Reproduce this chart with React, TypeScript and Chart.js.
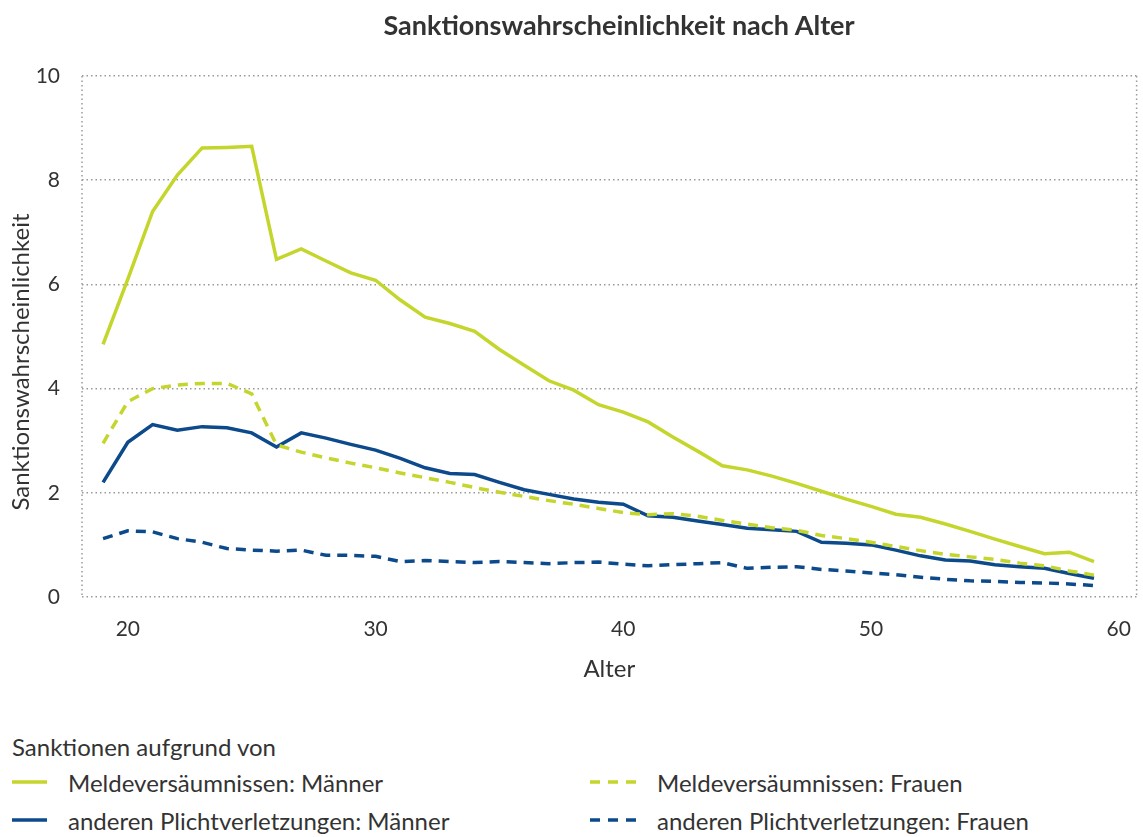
import { useEffect, useRef } from "react";
import { Chart, registerables } from "chart.js";

Chart.register(...registerables);

const ages = [19, 20, 21, 22, 23, 24, 25, 26, 27, 28, 29, 30, 31, 32, 33, 34, 35, 36, 37, 38, 39, 40, 41, 42, 43, 44, 45, 46, 47, 48, 49, 50, 51, 52, 53, 54, 55, 56, 57, 58, 59];

const meldeMaenner = [4.85, 6.1, 7.4, 8.1, 8.62, 8.63, 8.65, 6.48, 6.68, 6.45, 6.22, 6.08, 5.7, 5.37, 5.25, 5.1, 4.75, 4.45, 4.15, 3.97, 3.69, 3.55, 3.36, 3.07, 2.8, 2.52, 2.44, 2.32, 2.18, 2.03, 1.88, 1.74, 1.59, 1.53, 1.4, 1.26, 1.11, 0.97, 0.83, 0.86, 0.68];
const meldeFrauen = [2.95, 3.75, 4.0, 4.07, 4.1, 4.1, 3.9, 2.92, 2.78, 2.67, 2.57, 2.48, 2.38, 2.29, 2.2, 2.1, 2.01, 1.93, 1.85, 1.78, 1.7, 1.62, 1.58, 1.6, 1.55, 1.47, 1.4, 1.33, 1.28, 1.18, 1.12, 1.05, 0.97, 0.89, 0.82, 0.77, 0.72, 0.65, 0.6, 0.5, 0.42];
const andereMaenner = [2.2, 2.97, 3.31, 3.2, 3.27, 3.25, 3.15, 2.88, 3.15, 3.05, 2.93, 2.82, 2.66, 2.48, 2.37, 2.35, 2.2, 2.06, 1.97, 1.88, 1.82, 1.78, 1.56, 1.53, 1.46, 1.39, 1.32, 1.29, 1.26, 1.05, 1.03, 1.0, 0.9, 0.79, 0.71, 0.69, 0.62, 0.58, 0.55, 0.45, 0.36];
const andereFrauen = [1.12, 1.27, 1.25, 1.12, 1.05, 0.93, 0.9, 0.88, 0.9, 0.8, 0.8, 0.78, 0.68, 0.7, 0.68, 0.66, 0.68, 0.66, 0.64, 0.66, 0.67, 0.63, 0.6, 0.62, 0.64, 0.66, 0.55, 0.57, 0.58, 0.53, 0.5, 0.46, 0.43, 0.38, 0.34, 0.31, 0.3, 0.28, 0.27, 0.25, 0.22];

const xTicks = [20, 30, 40, 50, 60];
const yTicks = [0, 2, 4, 6, 8, 10];

const chartTitle = "Sanktionswahrscheinlichkeit nach Alter";
const yTitle = "Sanktionswahrscheinlichkeit";
const xTitle = "Alter";
const legendTitle = "Sanktionen aufgrund von";

const seriesLabels = [
  "Meldeversäumnissen: Männer",
  "Meldeversäumnissen: Frauen",
  "anderen Plichtverletzungen: Männer",
  "anderen Plichtverletzungen: Frauen",
];

const GREEN = "#c4d52c";
const BLUE = "#0c4a8c";
const TEXT = "#333333";
const GRID = "#9a9a9a";
const FONT = "Lato, 'Open Sans', sans-serif";

const seriesValues = [meldeMaenner, meldeFrauen, andereMaenner, andereFrauen];
const seriesColors = [GREEN, GREEN, BLUE, BLUE];
const seriesDashed = [false, true, false, true];

const edgePlugin = {
  id: "edges",
  beforeDatasetsDraw(chart: any) {
    const { ctx, chartArea } = chart;
    const { left, right, top, bottom } = chartArea;
    ctx.save();
    ctx.strokeStyle = GRID;
    ctx.lineWidth = 1.5;
    ctx.setLineDash([1.5, 3]);
    [left, right].forEach((x: number) => {
      ctx.beginPath();
      ctx.moveTo(x, top);
      ctx.lineTo(x, bottom);
      ctx.stroke();
    });
    ctx.restore();
  },
  afterDraw(chart: any) {
    const { ctx } = chart;
    ctx.save();
    ctx.fillStyle = TEXT;
    ctx.font = `24px ${FONT}`;
    ctx.textAlign = "center";
    ctx.textBaseline = "middle";
    ctx.translate(21, 362);
    ctx.rotate(-Math.PI / 2);
    ctx.fillText(yTitle, 0, 0);
    ctx.restore();
  },
};

export default function App() {
  const ref = useRef<HTMLCanvasElement>(null);

  useEffect(() => {
    document.body.style.margin = "0";
    const canvas = ref.current;
    if (!canvas) return;
    const chart = new Chart(canvas, {
      type: "line",
      data: {
        datasets: seriesLabels.map((label, i) => ({
          label,
          data: ages.map((a, j) => ({ x: a, y: seriesValues[i][j] })),
          borderColor: seriesColors[i],
          backgroundColor: seriesColors[i],
          borderWidth: 3.5,
          borderDash: seriesDashed[i] ? [10, 7] : [],
          pointRadius: 0,
          tension: 0,
          fill: false,
        })),
      },
      options: {
        animation: false,
        responsive: true,
        maintainAspectRatio: false,
        layout: { padding: { left: 0, right: 3, top: 76, bottom: 0 } },
        plugins: {
          legend: { display: false },
          tooltip: { enabled: false },
          title: { display: false },
        },
        scales: {
          x: {
            type: "linear",
            min: 18.15,
            max: 60.72,
            afterBuildTicks: (scale: any) => {
              scale.ticks = xTicks.map((v) => ({ value: v }));
            },
            grid: { display: false },
            border: { display: false },
            ticks: {
              color: TEXT,
              font: { family: FONT, size: 21 },
              padding: 12,
              maxRotation: 0,
              autoSkip: false,
            },
            title: {
              display: true,
              text: xTitle,
              color: TEXT,
              font: { family: FONT, size: 24 },
              padding: { top: 1, bottom: 0 },
            },
          },
          y: {
            min: 0,
            max: 10,
            afterBuildTicks: (scale: any) => {
              scale.ticks = yTicks.map((v) => ({ value: v }));
            },
            afterFit: (scale: any) => {
              scale.width = 82;
            },
            grid: { color: GRID, lineWidth: 1.5, drawTicks: false },
            border: { display: false, dash: [1.5, 3] },
            ticks: {
              color: TEXT,
              font: { family: FONT, size: 21 },
              padding: 22,
            },
          },
        },
      },
      plugins: [edgePlugin],
    });
    return () => chart.destroy();
  }, []);

  const legendRow = (idx: number) => {
    const w = seriesDashed[idx] ? 46 : 35;
    return (
      <div key={idx} style={{ display: "flex", alignItems: "center", height: 38 }}>
        <svg width={w} height={10} style={{ marginRight: 21, flex: "none" }}>
          <line
            x1={0}
            y1={5}
            x2={w}
            y2={5}
            stroke={seriesColors[idx]}
            strokeWidth={3.5}
            strokeDasharray={seriesDashed[idx] ? "10 8" : undefined}
          />
        </svg>
        <span>{seriesLabels[idx]}</span>
      </div>
    );
  };

  return (
    <div style={{ position: "relative", width: 1143, height: 837, fontFamily: FONT, color: TEXT }}>
      <div style={{ position: "relative", width: 1143, height: 684 }}>
        <canvas ref={ref} />
      </div>
      <div
        style={{
          position: "absolute",
          left: 619 - 300,
          top: 8,
          width: 600,
          textAlign: "center",
          fontSize: 27,
          fontWeight: "bold",
          lineHeight: "34px",
        }}
      >
        {chartTitle}
      </div>
      <div style={{ position: "absolute", left: 12, top: 730, fontSize: 24, lineHeight: "34px" }}>
        {legendTitle}
      </div>
      <div
        style={{
          position: "absolute",
          left: 12,
          top: 763,
          width: 1120,
          fontSize: 24,
          display: "grid",
          gridTemplateColumns: "578px 1fr",
        }}
      >
        {[0, 1, 2, 3].map((i) => legendRow(i))}
      </div>
    </div>
  );
}
